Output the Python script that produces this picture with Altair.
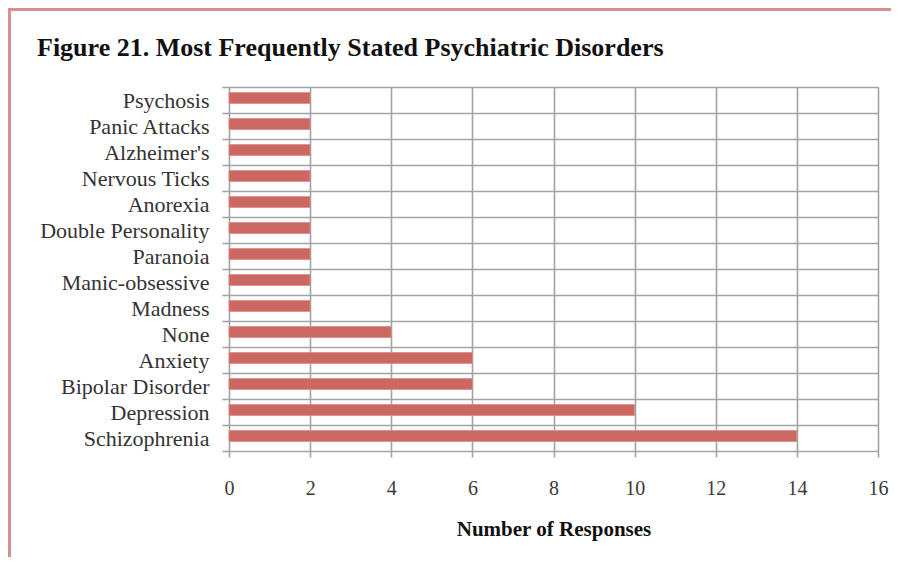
import altair as alt
import pandas as pd

categories = ["Psychosis", "Panic Attacks", "Alzheimer's", "Nervous Ticks", "Anorexia",
              "Double Personality", "Paranoia", "Manic-obsessive", "Madness", "None",
              "Anxiety", "Bipolar Disorder", "Depression", "Schizophrenia"]
values = [2, 2, 2, 2, 2, 2, 2, 2, 2, 4, 6, 6, 10, 14]
title_text = ["Figure 21. Most Frequently Stated Psychiatric Disorders"]

df = pd.DataFrame({"disorder": categories, "count": values})
tdf = pd.DataFrame({"t": title_text})

FONT = "Liberation Serif"
W, H = 649, 364
GRID = "#a3a3a3"

bars = alt.Chart(df).mark_bar(size=11, yOffset=-2, color="#cd6762", stroke="#d98e8a", strokeWidth=0.8).encode(
    x=alt.X("count:Q", scale=alt.Scale(domain=[0, 16], nice=False),
            axis=alt.Axis(title="Number of Responses", values=list(range(0, 17, 2)),
                          grid=True, gridColor=GRID, gridWidth=1.6, labelFlush=False,
                          domain=False, ticks=True, tickSize=6, tickColor=GRID, tickWidth=1.6,
                          labelFont=FONT, labelFontSize=20, labelColor="#3a3a3a", labelPadding=21,
                          titleFont=FONT, titleFontSize=21, titleFontWeight="bold",
                          titleColor="#111111", titlePadding=20)),
    y=alt.Y("disorder:N", sort=categories, scale=alt.Scale(paddingInner=0, paddingOuter=0),
            axis=alt.Axis(title=None, grid=True, tickBand="extent", gridColor=GRID, gridWidth=1.6,
                          domain=False, ticks=True, tickSize=7, tickColor=GRID, tickWidth=1.6,
                          labelFont=FONT, labelFontSize=22, labelColor="#333333", labelPadding=13)),
)

title = alt.Chart(tdf).mark_text(font=FONT, fontSize=26, fontWeight="bold", color="#111111",
                                 align="left", baseline="alphabetic").encode(
    text="t:N", x=alt.value(-192), y=alt.value(-31)
)

border_top = alt.Chart(df).mark_rule(color="#d4918e", strokeWidth=3).encode(
    x=alt.value(-221), x2=alt.value(W + 20), y=alt.value(-77.5)
)
border_left = alt.Chart(df).mark_rule(color="#d4918e", strokeWidth=3).encode(
    x=alt.value(-220), y=alt.value(-79), y2=alt.value(H + 120)
)

chart = alt.layer(border_top, border_left, title, bars).properties(
    width=W, height=H,
    autosize=alt.AutoSizeParams(type="none"),
    padding={"left": 221, "top": 79, "right": 13, "bottom": 106},
).configure_view(stroke=None).configure(background="white")

chart.save("out.html", embed_options={"renderer": "svg", "actions": False})
